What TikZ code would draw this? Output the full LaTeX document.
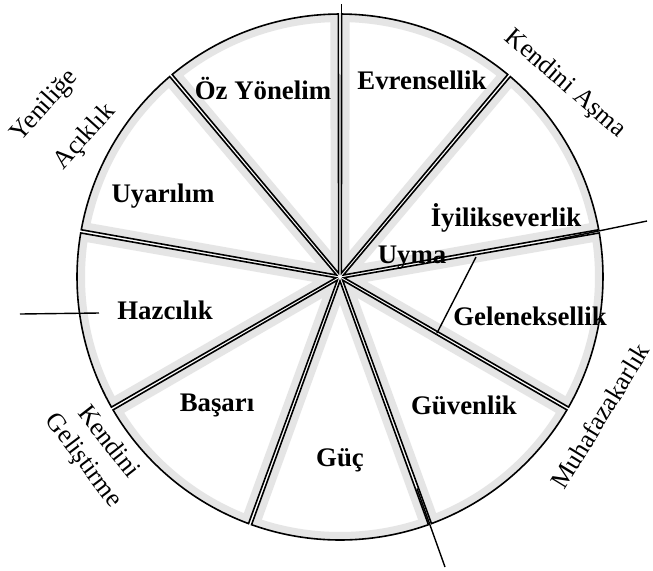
\documentclass[tikz,border=0pt]{standalone}
\usepackage{fontspec}
\setmainfont{Liberation Serif}
\usetikzlibrary{positioning}
\definecolor{bandGray}{RGB}{229,229,229}
% one slice of the circle, between two angles
\newcommand{\slicepath}[2]{({(#1+#2)/2}:4) -- ({#1+0.35}:263) arc[start angle={#1+0.35}, end angle={#2-0.35}, radius=263] -- cycle}

\begin{document}
\begin{tikzpicture}[x=0.5pt, y=0.5pt,
    valuelabel/.style={font=\fontsize{13.4}{15}\selectfont\bfseries},
    axislabel/.style={font=\fontsize{13}{15}\selectfont},
    sliceline/.style={black, line width=0.8pt, line join=miter}]
	\useasboundingbox (-340,-293) rectangle (313,277);
	% slices with grey inner band
	\foreach \a/\b in {50/90, 10/50, -30/10, -70/-30, -110/-70, -150/-110, -190/-150, 130/170, 90/130} {
		\begin{scope}
			\clip \slicepath{\a}{\b};
			\fill[white] \slicepath{\a}{\b};
			\draw[bandGray, line width=8pt] \slicepath{\a}{\b};
		\end{scope}
		\draw[sliceline] \slicepath{\a}{\b};
	}
	% value names
	\node[valuelabel] (evrensellik) at (82,197) {Evrensellik};
	\node[valuelabel] (ozyonelim) at (-77,189) {Öz Yönelim};
	\node[valuelabel] (uyarilim) at (-177,81) {Uyarılım};
	\node[valuelabel] (iyilik) at (166,59) {İyilikseverlik};
	\node[valuelabel] (uyma) at (72,19) {Uyma};
	\node[valuelabel] (gelenek) at (190,-39) {Geleneksellik};
	\node[valuelabel] (guvenlik) at (124,-128) {Güvenlik};
	\node[valuelabel] (guc) at (0,-183) {Güç};
	\node[valuelabel] (basari) at (-123,-128) {Başarı};
	\node[valuelabel] (hazcilik) at (-175,-33) {Hazcılık};
	% dividing lines of the higher order groups
	\coordinate (topIn) at (1.5,190);
	\coordinate (topOut) at (1.5,273);
	\coordinate (rightIn) at (215,37);
	\coordinate (rightOut) at (307,56);
	\coordinate (bottomIn) at (-70:225);
	\coordinate (bottomOut) at (105,-290);
	\coordinate (leftIn) at (-241,-36);
	\coordinate (leftOut) at (-320,-37);
	\coordinate (uymaTop) at (136,20);
	\coordinate (uymaBottom) at (97,-56);
	\draw[line width=0.7pt] (topIn) -- (topOut);
	\draw[line width=0.7pt] (rightIn) -- (rightOut);
	\draw[line width=0.7pt] (bottomIn) -- (bottomOut);
	\draw[line width=0.7pt] (leftIn) -- (leftOut);
	\draw[line width=0.7pt] (uymaTop) -- (uymaBottom);
	% higher order group names
	\node[axislabel, rotate=48] (yenilige) at (-295,171) {Yeniliğe};
	\node[axislabel, rotate=48] (aciklik) at (-255,140) {Açıklık};
	\node[axislabel, rotate=-41] (asma) at (225,193) {Kendini Aşma};
	\node[axislabel, rotate=58.5] (muhafaza) at (260,-139) {Muhafazakarlık};
	\node[axislabel, rotate=-52] (kendini) at (-230,-164) {Kendini};
	\node[axislabel, rotate=-53] (gelistirme) at (-257,-184) {Geliştirme};
\end{tikzpicture}
\end{document}
